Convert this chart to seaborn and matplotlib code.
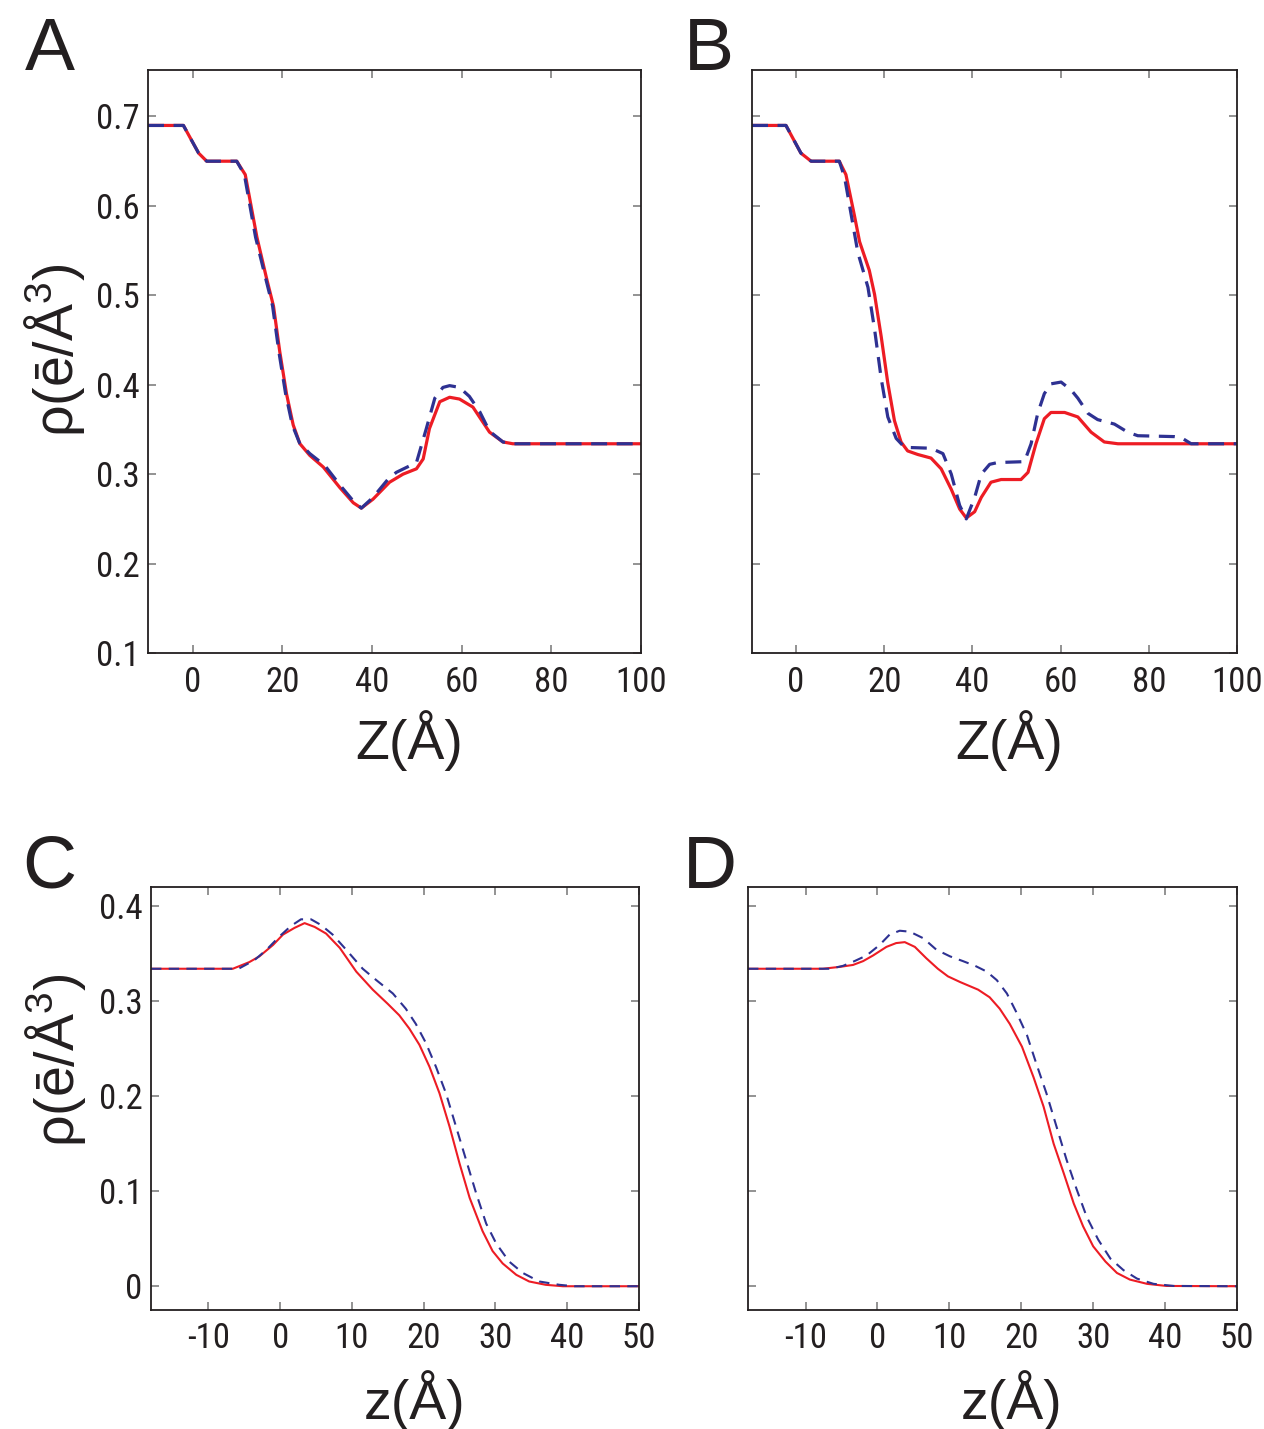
import numpy as np
import pandas as pd
import seaborn as sns
import matplotlib.pyplot as plt
from matplotlib import font_manager

# panel A
a_red_x = [-10, -2.1, 1.3, 3.1, 9.8, 11.7, 14.3, 16.5, 18.0, 19.4, 20.9, 22.4, 23.9, 26.1, 29.1, 32.8,
           35.8, 37.6, 40.2, 43.9, 46.9, 49.9, 51.4, 52.8, 55.1, 57.3, 59.5, 62.5, 66.2, 69.2, 71.4, 100]
a_red_y = [0.690, 0.690, 0.659, 0.650, 0.650, 0.635, 0.565, 0.518, 0.488, 0.437, 0.390, 0.355, 0.334, 0.321,
           0.308, 0.285, 0.268, 0.262, 0.272, 0.291, 0.300, 0.306, 0.317, 0.351, 0.381, 0.386, 0.384, 0.375,
           0.347, 0.336, 0.334, 0.334]
a_blue_x = [-10, -2.1, 1.3, 3.1, 9.8, 11.5, 14.0, 16.3, 17.8, 19.2, 20.7, 22.2, 23.8, 26.1, 29.4, 32.8,
            35.8, 37.6, 40.2, 43.5, 45.4, 49.9, 52.1, 54.0, 55.8, 57.3, 59.5, 61.7, 64.0, 66.2, 69.2, 71.4, 100]
a_blue_y = [0.690, 0.690, 0.659, 0.650, 0.650, 0.635, 0.565, 0.518, 0.488, 0.437, 0.390, 0.355, 0.335, 0.323,
            0.310, 0.288, 0.270, 0.262, 0.274, 0.294, 0.302, 0.313, 0.351, 0.385, 0.397, 0.399, 0.397, 0.387,
            0.370, 0.348, 0.336, 0.334, 0.334]

# panel B
b_red_x = [-10, -2.3, 1.1, 3.4, 9.8, 11.3, 13.2, 14.4, 16.6, 17.8, 19.3, 20.8, 22.3, 23.8, 25.3, 27.6,
           30.6, 32.9, 35.2, 37.1, 38.6, 40.5, 42.0, 44.2, 46.5, 51.0, 52.6, 54.4, 56.3, 57.8, 60.9, 63.9,
           66.9, 69.9, 73.0, 100]
b_red_y = [0.690, 0.690, 0.659, 0.650, 0.650, 0.635, 0.590, 0.560, 0.528, 0.501, 0.454, 0.402, 0.360, 0.336,
           0.326, 0.322, 0.318, 0.306, 0.283, 0.261, 0.251, 0.258, 0.274, 0.291, 0.294, 0.294, 0.302, 0.334,
           0.362, 0.369, 0.369, 0.364, 0.347, 0.336, 0.334, 0.334]
b_blue_x = [-10, -2.3, 1.1, 3.4, 9.8, 11.0, 12.5, 14.0, 16.3, 17.8, 19.3, 20.8, 22.7, 24.6, 30.6, 33.3,
            35.2, 37.1, 38.6, 40.5, 42.0, 43.9, 45.7, 51.8, 53.3, 54.8, 56.3, 57.8, 60.1, 62.4, 63.9, 66.2,
            68.4, 72.2, 75.2, 77.5, 85.8, 87.3, 89.6, 100]
b_blue_y = [0.690, 0.690, 0.659, 0.650, 0.650, 0.632, 0.590, 0.548, 0.509, 0.462, 0.407, 0.364, 0.340, 0.330,
            0.329, 0.323, 0.300, 0.265, 0.250, 0.274, 0.300, 0.311, 0.313, 0.314, 0.334, 0.368, 0.390, 0.401,
            0.403, 0.394, 0.385, 0.368, 0.361, 0.356, 0.347, 0.343, 0.342, 0.341, 0.334, 0.334]

# panel C
c_red_x = [-18, -6.6, -4.3, -2.9, -1.0, 0.4, 2.0, 3.4, 4.8, 6.4, 8.3, 10.6, 12.9, 15.0, 16.6, 18.0, 19.4,
           20.8, 22.2, 23.6, 25.0, 26.4, 28.2, 29.6, 31.0, 32.9, 34.7, 37.0, 39.4, 50]
c_red_y = [0.334, 0.334, 0.341, 0.347, 0.359, 0.370, 0.377, 0.382, 0.378, 0.371, 0.356, 0.331, 0.312, 0.297,
           0.285, 0.271, 0.254, 0.231, 0.203, 0.168, 0.129, 0.093, 0.058, 0.037, 0.024, 0.012, 0.005, 0.0015,
           0.0, 0.0]
c_blue_x = [-18, -5.8, -3.6, -1.9, -0.1, 1.5, 2.9, 4.3, 5.7, 7.3, 9.2, 11.5, 13.4, 15.7, 17.5, 18.9, 20.3,
            21.7, 23.1, 24.5, 25.9, 27.3, 28.7, 30.1, 31.9, 33.8, 36.1, 38.9, 41.0, 50]
c_blue_y = [0.334, 0.334, 0.343, 0.354, 0.368, 0.379, 0.386, 0.386, 0.380, 0.370, 0.354, 0.334, 0.322, 0.308,
            0.292, 0.276, 0.256, 0.231, 0.203, 0.168, 0.133, 0.098, 0.066, 0.045, 0.026, 0.014, 0.005, 0.0015,
            0.0, 0.0]

# panel D
d_red_x = [-18, -7.6, -5.2, -3.4, -2.0, -0.6, 1.25, 2.6, 3.8, 5.2, 6.8, 8.4, 9.8, 11.5, 14.0, 15.6, 17.0,
           18.4, 20.1, 21.7, 23.1, 24.5, 25.9, 27.3, 28.6, 30.0, 31.7, 33.3, 35.1, 37.5, 40.2, 50]
d_red_y = [0.334, 0.334, 0.336, 0.338, 0.342, 0.348, 0.357, 0.361, 0.362, 0.357, 0.345, 0.334, 0.326, 0.320,
           0.312, 0.304, 0.292, 0.276, 0.252, 0.220, 0.189, 0.150, 0.119, 0.087, 0.063, 0.042, 0.026, 0.014,
           0.007, 0.0025, 0.0003, 0.0]
d_blue_x = [-18, -6.6, -4.8, -3.2, -1.5, 0.3, 1.7, 3.1, 4.5, 6.4, 8.2, 10.1, 11.9, 13.6, 15.2, 16.6, 18.0,
            19.4, 20.8, 22.1, 23.5, 24.9, 26.3, 27.7, 29.1, 30.7, 32.4, 34.2, 36.1, 38.4, 41.2, 50]
d_blue_y = [0.334, 0.334, 0.337, 0.342, 0.348, 0.359, 0.370, 0.374, 0.373, 0.366, 0.354, 0.347, 0.342, 0.337,
            0.331, 0.322, 0.308, 0.287, 0.264, 0.234, 0.203, 0.168, 0.133, 0.102, 0.073, 0.049, 0.029, 0.017,
            0.008, 0.0025, 0.0003, 0.0]

top_yticks = [0.1, 0.2, 0.3, 0.4, 0.5, 0.6, 0.7]
top_xticks = [0, 20, 40, 60, 80, 100]
bot_yticks = [0, 0.1, 0.2, 0.3, 0.4]
bot_xticks = [-10, 0, 10, 20, 30, 40, 50]

sns.set_style("white")
plt.rcParams['font.family'] = ['Liberation Sans', 'DejaVu Sans']
plt.rcParams['mathtext.fontset'] = 'custom'
plt.rcParams['mathtext.rm'] = 'Liberation Sans'

RED = '#ED1C24'
BLUE = '#2E3192'
INK = '#231F20'

# narrow font for tick labels (like Arial Narrow) if one is installed
narrow_path = None
for want in ['Liberation Sans Narrow', 'Roboto Condensed', 'DejaVu Sans Condensed', 'Condensed', 'Narrow']:
    for f in font_manager.fontManager.ttflist:
        tag = (f.name + ' ' + f.fname).replace('-', ' ')
        if want.replace(' ', '') in tag.replace(' ', '') and f.weight in (400, 'normal', 'regular') \
                and f.style == 'normal':
            narrow_path = f.fname
            break
    if narrow_path:
        break
if narrow_path:
    tick_fp = font_manager.FontProperties(fname=narrow_path, size=25)
else:
    tick_fp = font_manager.FontProperties(family='Liberation Sans', size=21)

fig = plt.figure(figsize=(12.64, 14.29), dpi=100)
W, H = 1264, 1429


def make_ax(l, r, t, b):
    return fig.add_axes([l / W, 1 - b / H, (r - l) / W, (b - t) / H])


axA = make_ax(148, 641, 70, 653)
axB = make_ax(752, 1237, 70, 653)
axC = make_ax(151, 639, 887, 1310)
axD = make_ax(748, 1237, 887, 1310)

panels = [
    (axA, a_red_x, a_red_y, a_blue_x, a_blue_y, 2.3, (5, 3)),
    (axB, b_red_x, b_red_y, b_blue_x, b_blue_y, 2.3, (5, 3)),
    (axC, c_red_x, c_red_y, c_blue_x, c_blue_y, 1.5, (5, 3.5)),
    (axD, d_red_x, d_red_y, d_blue_x, d_blue_y, 1.5, (5, 3.5)),
]

for ax, rx, ry, bx, by, lw, dash in panels:
    red = pd.DataFrame({'z': rx, 'rho': ry})
    blue = pd.DataFrame({'z': bx, 'rho': by})
    sns.lineplot(data=red, x='z', y='rho', ax=ax, color=RED, lw=lw, sort=False)
    sns.lineplot(data=blue, x='z', y='rho', ax=ax, color=BLUE, lw=lw, sort=False,
                 linestyle=(0, dash))
    ax.set_xlabel('')
    ax.set_ylabel('')
    for s in ax.spines.values():
        s.set_visible(True)
        s.set_color(INK)
        s.set_linewidth(1.3)
    ax.tick_params(direction='in', length=6, width=1.2, color='#808080',
                   top=True, right=True, left=True, bottom=True, pad=9, labelcolor=INK)

for ax in (axA, axB):
    ax.set_xlim(-10, 100)
    ax.set_ylim(0.1, 0.752)
    ax.set_xticks(top_xticks)
    ax.set_yticks(top_yticks)
    ax.set_yticklabels([f'{v:g}' for v in top_yticks])
    ax.set_xticklabels([str(v) for v in top_xticks])
    ax.set_xlabel('Z(Å)', fontsize=40, color=INK)
    ax.xaxis.label.set_va('center')
    ax.xaxis.set_label_coords(0.53, -0.15)

for ax in (axC, axD):
    ax.set_xlim(-18, 50)
    ax.set_ylim(-0.025, 0.42)
    ax.set_xticks(bot_xticks)
    ax.set_yticks(bot_yticks)
    ax.set_yticklabels([f'{v:g}' for v in bot_yticks])
    ax.set_xticklabels([str(v) for v in bot_xticks])
    ax.set_xlabel('z(Å)', fontsize=40, color=INK)
    ax.xaxis.label.set_va('center')
    ax.xaxis.set_label_coords(0.54, -0.215)

for ax in (axB, axD):
    ax.tick_params(labelleft=False)

for ax in (axA, axB, axC, axD):
    for lab in ax.get_xticklabels() + ax.get_yticklabels():
        lab.set_fontproperties(tick_fp)
    ax.tick_params(axis='y', pad=6)

ylab = 'ρ(ē/Å$^{3}$)'
axA.set_ylabel(ylab, fontsize=40, color=INK)
axA.yaxis.label.set_va('center')
axA.yaxis.set_label_coords(-0.19, 0.52)
axC.set_ylabel(ylab, fontsize=40, color=INK)
axC.yaxis.label.set_va('center')
axC.yaxis.set_label_coords(-0.195, 0.59)

for letter, x, y in [('A', 25, 70), ('B', 684, 70), ('C', 22, 888), ('D', 683, 888)]:
    fig.text(x / W, 1 - y / H, letter, fontsize=54, color=INK, va='baseline', ha='left')

fig.savefig('out.png', dpi=100, facecolor='white')
